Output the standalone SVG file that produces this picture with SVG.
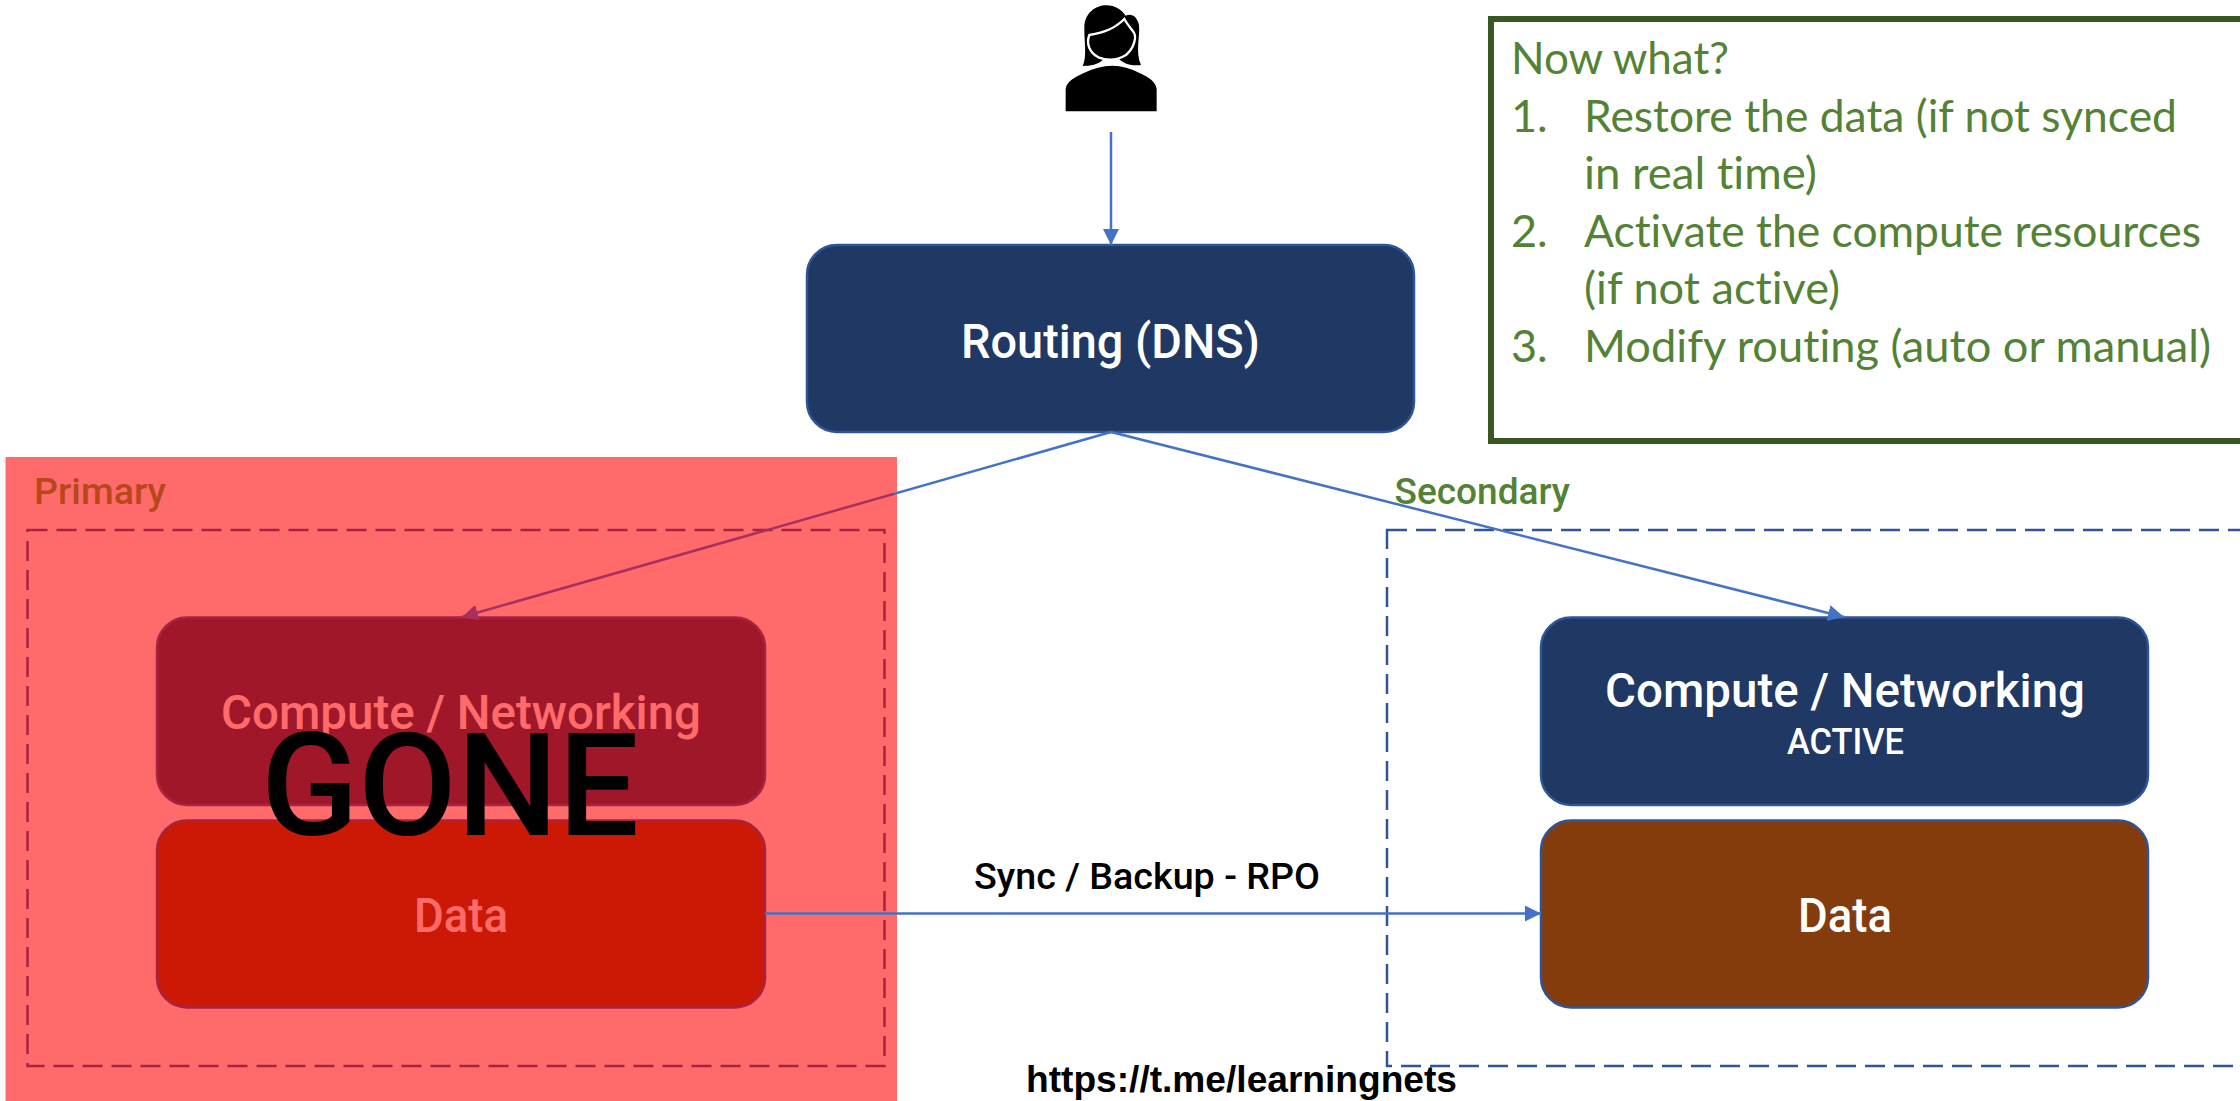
<svg xmlns="http://www.w3.org/2000/svg" width="2240" height="1101" viewBox="0 0 2240 1101">
<style>
.din{font-family:Roboto,"Liberation Sans",sans-serif;font-weight:500}
.node{stroke:#2F5597;stroke-width:2.5}
.lab{font-size:48px;fill:#fff}
.now{font-family:Lato,"Open Sans",sans-serif;font-size:45px;fill:#548235;font-variant-ligatures:none}
.conn{fill:none;stroke-width:2.5}
.dash{fill:none;stroke:#2F5597;stroke-width:2.5;stroke-dasharray:20 9}
</style>
<defs>
<marker id="ab" markerUnits="userSpaceOnUse" markerWidth="18" markerHeight="16" refX="16" refY="8" orient="auto"><path d="M0,0L16,8L0,16Z" fill="#4472C4"/></marker>
<marker id="ap" markerUnits="userSpaceOnUse" markerWidth="18" markerHeight="16" refX="16" refY="8" orient="auto"><path d="M0,0L16,8L0,16Z" fill="#A8305E"/></marker>
<linearGradient id="split" gradientUnits="userSpaceOnUse" x1="462" y1="0" x2="1111" y2="0">
<stop offset="0.6656" stop-color="#A8305E"/><stop offset="0.6656" stop-color="#4472C4"/>
</linearGradient>
</defs>
<rect width="2240" height="1101" fill="#fff"/>

<g id="primary-zone"><rect class="dash" x="27.5" y="530" width="857" height="536"/></g>
<g id="secondary-zone"><rect class="dash" x="1387" y="530" width="880" height="536"/></g>

<g id="user">
<g transform="translate(1000,0) scale(0.3333)">
<path fill="#000" d="M248,198C262,170 252,120 253,80C255,40 285,16 320,16C345,16 365,30 377,47C395,38 412,50 417,75C421,110 405,155 423,195C400,198 375,195 358,178L310,178C295,195 270,198 248,198Z"/>
<path fill="none" stroke="#fff" stroke-width="7" d="M373,57C345,85 315,97 268,105C258,130 268,158 295,172C320,182 350,182 378,165C402,145 412,110 400,95C390,82 380,70 373,57Z"/>
<path fill="#000" d="M197,334L197,268C199,245 225,232 250,220C310,190 365,190 420,220C445,232 468,245 470,268L470,334Z"/>
</g>
</g>

<g id="routing"><rect class="node" x="807" y="245" width="607" height="187" rx="30" fill="#1F3864"/>
<text class="din lab" x="961" y="358" textLength="299" lengthAdjust="spacingAndGlyphs">Routing (DNS)</text></g>

<g id="primary-compute"><rect class="node" x="157" y="617.5" width="608" height="187.5" rx="30" fill="#1F3864"/>
<text class="din lab" x="221" y="729" textLength="480" lengthAdjust="spacingAndGlyphs">Compute / Networking</text></g>
<g id="primary-data"><rect class="node" x="157" y="820.5" width="608" height="187" rx="30" fill="#843C0C"/>
<text class="din lab" x="414" y="932" textLength="94" lengthAdjust="spacingAndGlyphs">Data</text></g>

<g id="secondary-compute"><rect class="node" x="1541" y="617.5" width="607" height="187.5" rx="30" fill="#1F3864"/>
<text class="din lab" x="1605" y="707" textLength="480" lengthAdjust="spacingAndGlyphs">Compute / Networking</text>
<text class="din" x="1787" y="754" font-size="37" fill="#fff" textLength="117" lengthAdjust="spacingAndGlyphs">ACTIVE</text></g>
<g id="secondary-data"><rect class="node" x="1541" y="820.5" width="607" height="187" rx="30" fill="#843C0C"/>
<text class="din lab" x="1798" y="932" textLength="94" lengthAdjust="spacingAndGlyphs">Data</text></g>

<g id="failed-overlay"><rect x="5.5" y="457" width="891.5" height="644" fill="#FF0000" fill-opacity="0.58"/></g>

<g id="connectors">
<line class="conn" stroke="#4472C4" x1="1111" y1="132" x2="1111" y2="245" marker-end="url(#ab)"/>
<line class="conn" stroke="url(#split)" x1="1111" y1="432" x2="462" y2="617" marker-end="url(#ap)"/>
<line class="conn" stroke="#4472C4" x1="1111" y1="432" x2="1844" y2="617" marker-end="url(#ab)"/>
<line class="conn" stroke="#4472C4" x1="765" y1="913.5" x2="1541" y2="913.5" marker-end="url(#ab)"/>
</g>

<text class="din" x="261" y="835" font-size="142" fill="#000" textLength="378" lengthAdjust="spacingAndGlyphs">GONE</text>
<text class="din" x="34" y="504" font-size="36" fill="#B8481A" textLength="132" lengthAdjust="spacingAndGlyphs">Primary</text>
<text class="din" x="1394.5" y="504" font-size="36" fill="#548235" textLength="175.5" lengthAdjust="spacingAndGlyphs">Secondary</text>
<text class="din" x="974" y="889" font-size="36" fill="#000" textLength="346" lengthAdjust="spacingAndGlyphs">Sync / Backup - RPO</text>

<g id="now-what">
<rect x="1491" y="19" width="760" height="422" fill="#fff" stroke="#385723" stroke-width="6"/>
<text class="now" x="1511" y="74" textLength="218" lengthAdjust="spacingAndGlyphs">Now what?</text>
<text class="now" x="1511" y="132">1.</text>
<text class="now" x="1584" y="132" textLength="593" lengthAdjust="spacingAndGlyphs">Restore the data (if not synced</text>
<text class="now" x="1584" y="189" textLength="233" lengthAdjust="spacingAndGlyphs">in real time)</text>
<text class="now" x="1511" y="247">2.</text>
<text class="now" x="1584" y="247" textLength="617" lengthAdjust="spacingAndGlyphs">Activate the compute resources</text>
<text class="now" x="1584" y="304" textLength="256" lengthAdjust="spacingAndGlyphs">(if not active)</text>
<text class="now" x="1511" y="362">3.</text>
<text class="now" x="1584" y="362" textLength="627" lengthAdjust="spacingAndGlyphs">Modify routing (auto or manual)</text>
</g>

<text x="1026" y="1092" font-family="'Liberation Sans',Arial,sans-serif" font-weight="700" font-size="36" fill="#000" textLength="431" lengthAdjust="spacingAndGlyphs">https://t.me/learningnets</text>
</svg>
